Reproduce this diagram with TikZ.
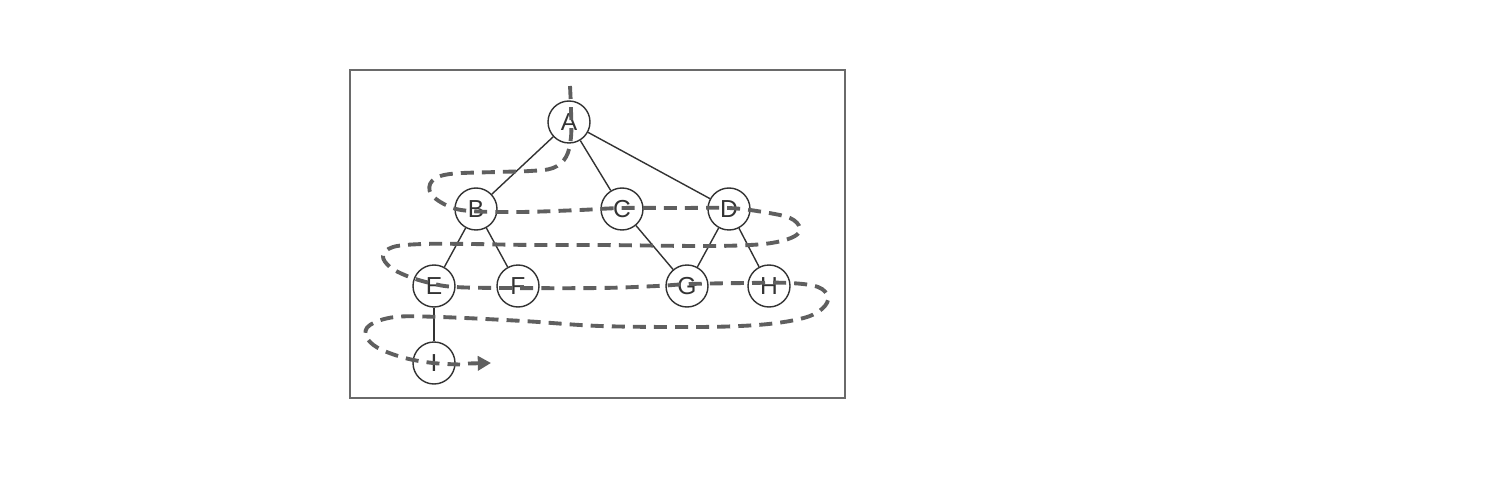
\documentclass[tikz,border=0pt]{standalone}
\usepackage{fontspec}
\setmainfont{Liberation Sans}
\usetikzlibrary{arrows.meta}
\definecolor{edgecol}{HTML}{333333}
\definecolor{trav}{HTML}{5F5F5F}
\definecolor{framecol}{HTML}{6A6A6A}
\tikzset{
  vert/.style={circle,draw=edgecol,line width=0.8pt,minimum size=0.84cm,inner sep=0pt,fill=white,
    font=\fontsize{14}{16}\selectfont,text=edgecol},
  tree/.style={draw=edgecol,line width=0.8pt},
  travline/.style={draw=trav,line width=2.2pt,dash pattern=on 7.4pt off 4.6pt,line cap=butt,line join=round},
}
\begin{document}
\begin{tikzpicture}[x=0.02cm,y=-0.02cm]
\useasboundingbox (0,0) rectangle (1497,486);
\fill[white] (0,0) rectangle (1497,486);
% frame
\draw[framecol,line width=0.8pt] (350,70) rectangle (845,398);
\draw[framecol,line width=1.6pt] (845,70) -- (845,398) -- (350,398);
% nodes
\node[vert] (A) at (569,122) {A};
\node[vert] (B) at (476,209) {B};
\node[vert] (C) at (622,209) {C};
\node[vert] (D) at (729,209) {D};
\node[vert] (E) at (434,286) {E};
\node[vert] (F) at (518,286) {F};
\node[vert] (G) at (687,286) {G};
\node[vert] (H) at (769,286) {H};
\node[vert] (I) at (434,363) {I};
% edges
\draw[tree] (A) -- (B);
\draw[tree] (A) -- (C);
\draw[tree] (A) -- (D);
\draw[tree] (B) -- (E);
\draw[tree] (B) -- (F);
\draw[tree] (C) -- (G);
\draw[tree] (D) -- (G);
\draw[tree] (D) -- (H);
\draw[tree] (E) -- (I);
% traversal
\coordinate (shaft) at (468,363.5);
\coordinate (finish) at (491,363);
\draw[travline] plot[smooth,tension=0.6] coordinates {
 (570,86) (571,110) (571,137) (566,157) (553,168) (530,171) (497,172) (450,174) (432,181) (431,194) (448,206) (470,211)
 (520,212) (580,210) (622,208) (680,208) (729,208) (763,212) (790,218) (800,228) (795,236) (777,242) (750,245) (700,246)
 (600,245) (533,245) (470,244) (423,244) (393,247) (383,256) (390,267) (407,276) (430,283) (455,287) (507,288)
 (600,288) (657,286) (690,284) (747,283) (790,283) (818,287) (828,297) (823,308) (807,317) (777,323) (740,326) (690,327)
 (600,326) (523,321) (440,317) (395,317) (370,325) (366,336) (378,348) (405,358) (433,363) (460,364.5)};
\draw[trav,line width=2.2pt,-{Triangle[length=7.5pt,width=8pt]}] (shaft) -- (finish);
\end{tikzpicture}
\end{document}
